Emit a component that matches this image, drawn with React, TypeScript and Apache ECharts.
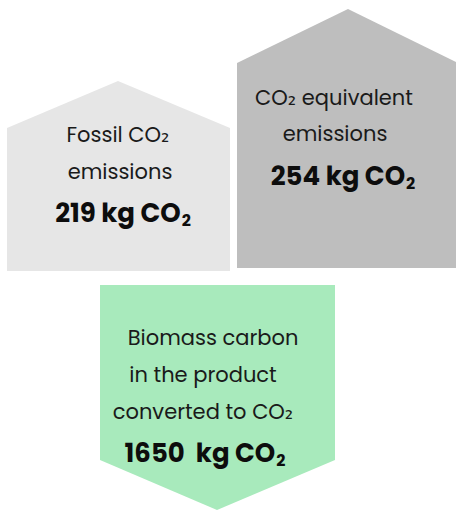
import React, { useEffect, useRef } from "react";
import * as echarts from "echarts";

// ---- data ----
const labelLines: string[][] = [
  ["Fossil CO₂", "emissions"],
  ["CO₂ equivalent", "emissions"],
  ["Biomass carbon", "in the product", "converted to CO₂"],
];
const values: number[] = [219, 254, 1650];
const unitMain = "kg CO";
const unitSub = "2";
const valueSeparators: string[] = [" ", " ", "  "];

// ---- layout / style ----
const colors = ["#e6e6e6", "#bebebe", "#a8eabc"];
const shapes: number[][][] = [
  [[7, 271], [7, 128], [118, 81], [230, 128], [230, 271]],
  [[237, 268], [237, 63], [348, 9], [456, 62], [456, 268]],
  [[100, 285], [335, 285], [335, 460], [217, 510], [100, 460]],
];
const textPos = [
  { lines: [[118, 134], [120, 171]], value: [123, 213] },
  { lines: [[334, 97], [335, 133]], value: [343, 176] },
  { lines: [[213, 337], [203, 374], [203, 411]], value: [205, 453] },
];
const FONT = "Poppins, 'DejaVu Sans', sans-serif";

export default function App() {
  const ref = useRef<HTMLDivElement>(null);
  useEffect(() => {
    if (!ref.current) return;
    const chart = echarts.init(ref.current, null, { renderer: "svg" });
    const elements: any[] = [];
    shapes.forEach((pts, i) => {
      elements.push({
        type: "polygon",
        shape: { points: pts },
        style: { fill: colors[i] },
        silent: true,
      });
      labelLines[i].forEach((line, j) => {
        elements.push({
          type: "text",
          x: textPos[i].lines[j][0],
          y: textPos[i].lines[j][1],
          style: {
            text: line,
            fill: "#1a1a1a",
            font: `400 21px ${FONT}`,
            align: "center",
            verticalAlign: "middle",
          },
        });
      });
      elements.push({
        type: "text",
        x: textPos[i].value[0],
        y: textPos[i].value[1],
        style: {
          text: `{b|${values[i]}${valueSeparators[i]}${unitMain}}{s|${unitSub}}`,
          align: "center",
          verticalAlign: "middle",
          rich: {
            b: {
              font: `700 26px ${FONT}`,
              fill: "#0d0d0d",
              lineHeight: 30,
              verticalAlign: "middle",
            },
            s: {
              font: `700 16px ${FONT}`,
              fill: "#0d0d0d",
              lineHeight: 30,
              verticalAlign: "bottom",
              padding: [0, 0, 0, 1],
            },
          },
        },
      });
    });
    chart.setOption({
      animation: false,
      backgroundColor: "#ffffff",
      graphic: { elements },
    });
    return () => chart.dispose();
  }, []);
  return (
    <div
      ref={ref}
      style={{ position: "absolute", left: 0, top: 0, width: 456, height: 510 }}
    />
  );
}
